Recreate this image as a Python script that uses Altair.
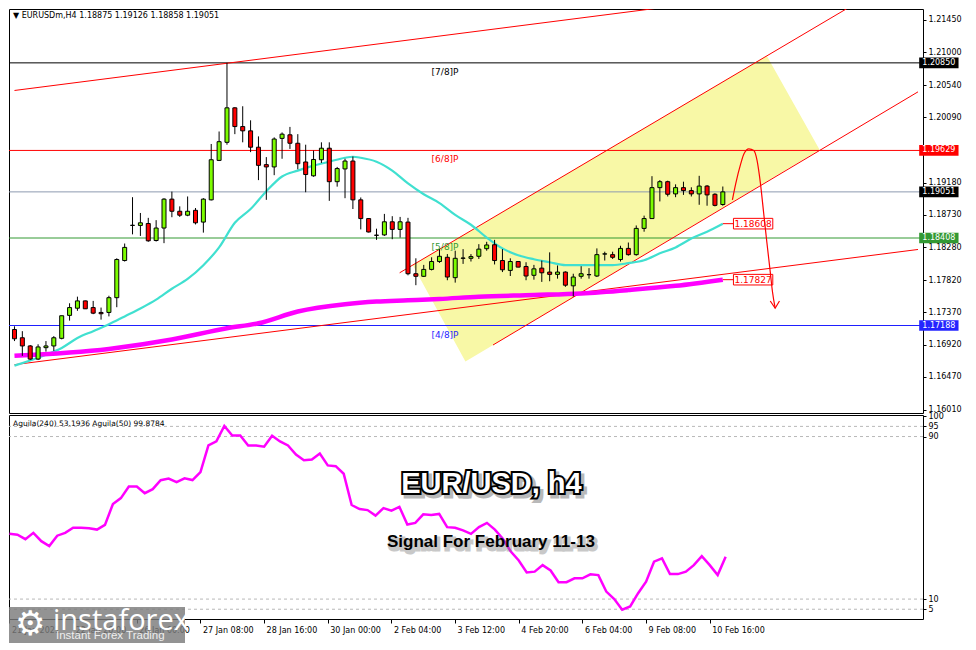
import altair as alt
import pandas as pd

FONT = "DejaVu Sans"
UP_COL = "#7cfc00"
DN_COL = "#ff0000"

# ---------------- candles (H4 bars, index 0..90) ----------------
opens = [1.17132,1.17017,1.16903,1.16720,1.16879,1.16903,1.17009,1.17329,1.17429,1.17531,
         1.17438,1.17370,1.17370,1.17576,1.18094,1.18583,1.18583,1.18610,1.18373,1.18547,
         1.18950,1.18781,1.18726,1.18794,1.18630,1.18940,1.19490,1.19742,1.20223,1.19962,
         1.19902,1.19674,1.19431,1.19399,1.19797,1.19847,1.19729,1.19468,1.19275,1.19499,
         1.19660,1.19193,1.19371,1.19481,1.18940,1.18679,1.18445,1.18451,1.18634,1.18528,
         1.18630,1.17910,1.17874,1.17970,1.18080,1.18139,1.17855,1.18125,1.18125,1.18153,
         1.18259,1.18314,1.18094,1.17956,1.18080,1.18011,1.17888,1.17988,1.17933,1.17901,
         1.17933,1.17741,1.17874,1.17896,1.17878,1.18184,1.18176,1.18108,1.18263,1.18176,
         1.18542,1.18679,1.19110,1.19193,1.19023,1.19110,1.19069,1.19023,1.19132,1.19018,
         1.18875]
highs = [1.17177,1.17109,1.16916,1.16926,1.16971,1.17040,1.17324,1.17498,1.17590,1.17535,
         1.17531,1.17438,1.17603,1.18125,1.18331,1.18977,1.18757,1.18689,1.18657,1.18963,
         1.19055,1.18849,1.18987,1.18826,1.18963,1.19719,1.19893,1.20850,1.20231,1.20245,
         1.20049,1.19825,1.19536,1.19811,1.19880,1.19957,1.19856,1.19709,1.19627,1.19742,
         1.19742,1.19399,1.19513,1.19545,1.18973,1.18685,1.18538,1.18744,1.18712,1.18702,
         1.18689,1.18125,1.18033,1.18139,1.18253,1.18184,1.18231,1.18253,1.18184,1.18322,
         1.18355,1.18382,1.18253,1.18125,1.18085,1.18070,1.18033,1.18094,1.18208,1.18025,
         1.17943,1.17910,1.18015,1.17988,1.18263,1.18217,1.18217,1.18300,1.18345,1.18583,
         1.18720,1.19270,1.19215,1.19207,1.19156,1.19193,1.19115,1.19275,1.19146,1.19032,
         1.19126]
lows = [1.16971,1.16765,1.16706,1.16706,1.16824,1.16834,1.16995,1.17256,1.17393,1.17418,
        1.17346,1.17270,1.17315,1.17443,1.18080,1.18459,1.18437,1.18355,1.18359,1.18336,
        1.18698,1.18702,1.18712,1.18597,1.18483,1.18932,1.19481,1.19709,1.19856,1.19742,
        1.19605,1.19215,1.18940,1.19284,1.19513,1.19650,1.19366,1.19046,1.19262,1.19454,
        1.18926,1.19124,1.18963,1.18812,1.18528,1.18485,1.18382,1.18437,1.18391,1.18414,
        1.17888,1.17750,1.17864,1.17956,1.18061,1.17819,1.17786,1.18047,1.18080,1.18116,
        1.18231,1.18039,1.17933,1.17878,1.18000,1.17819,1.17827,1.17796,1.17805,1.17841,
        1.17727,1.17590,1.17841,1.17841,1.17864,1.18094,1.18116,1.18080,1.18162,1.18162,
        1.18496,1.18675,1.18918,1.18987,1.18977,1.19009,1.18987,1.18871,1.18858,1.18849,
        1.18858]
closes = [1.17003,1.16903,1.16720,1.16889,1.16903,1.17017,1.17324,1.17438,1.17531,1.17421,
          1.17360,1.17352,1.17576,1.18108,1.18277,1.18586,1.18620,1.18369,1.18547,1.18950,
          1.18781,1.18726,1.18781,1.18620,1.18950,1.19499,1.19751,1.20223,1.19962,1.19902,
          1.19674,1.19421,1.19399,1.19788,1.19856,1.19729,1.19444,1.19293,1.19503,1.19660,
          1.19193,1.19376,1.19481,1.18940,1.18679,1.18492,1.18448,1.18634,1.18528,1.18634,
          1.17910,1.17874,1.17970,1.18080,1.18153,1.17864,1.18125,1.18129,1.18149,1.18253,
          1.18311,1.18094,1.17965,1.18080,1.18002,1.17878,1.17978,1.17923,1.17901,1.17933,
          1.17750,1.17864,1.17910,1.17898,1.18176,1.18187,1.18139,1.18263,1.18176,1.18542,
          1.18679,1.19110,1.19193,1.19018,1.19110,1.19069,1.19023,1.19132,1.19009,1.18863,
          1.19051]

# ---------------- moving averages ----------------
cyan_idx = [0,4,6,8,10,12,14,16,18,20,22,24,26,28,30,32,34,36,38,40,42,43,44,46,48,50,
            52,54,56,58,60,62,64,66,68,70,72,74,76,78,80,82,84,86,88,90]
cyan_val = [1.16628,1.16779,1.16875,1.17013,1.17109,1.17205,1.17315,1.17425,1.17548,1.17700,
            1.17837,1.18029,1.18277,1.18620,1.18812,1.19060,1.19266,1.19348,1.19417,1.19472,
            1.19527,1.19541,1.19527,1.19472,1.19348,1.19169,1.19018,1.18895,1.18730,1.18593,
            1.18414,1.18263,1.18167,1.18112,1.18070,1.18029,1.18029,1.18029,1.18029,1.18057,
            1.18098,1.18194,1.18277,1.18400,1.18496,1.18608]
mag_idx = [0,12,20,27,31,36,42,46,50,54,59,66,72,78,84,90]
mag_val = [1.16765,1.16861,1.16992,1.17150,1.17219,1.17383,1.17484,1.17521,1.17539,1.17558,
           1.17590,1.17613,1.17635,1.17682,1.17741,1.17827]

# ---------------- indicator (Aguila) ----------------
aguila = [42.1,41.7,39.5,42.6,38.5,36.1,41.2,42.6,45.1,45.1,
          44.9,44.2,46.5,56.8,59.7,65.4,65.4,62.1,64.1,68.5,
          69.3,67.6,69.4,68.6,72.5,85.6,87.6,95.2,90.5,90.5,
          85.6,85.6,85.0,90.4,87.6,85.6,81.1,78.3,78.7,81.6,
          75.8,75.4,71.7,56.3,54.3,53.8,51.1,54.8,53.5,55.4,
          46.7,47.5,51.7,51.4,51.9,45.4,45.1,43.8,42.1,45.4,
          47.5,44.2,39.7,33.4,29.0,23.1,23.5,26.7,24.1,18.3,
          18.3,20.2,20.2,22.2,21.8,13.7,10.0,4.8,6.4,12.9,
          18.6,28.4,30.0,22.3,22.3,23.5,26.7,31.1,26.7,21.8,
          30.8]
ind_levels = [5, 10, 90, 95]
ind_ticks = [0, 5, 10, 90, 95, 100]

# ---------------- levels / axis ----------------
level_prices = [1.20850, 1.19629, 1.18408, 1.17188]
level_names = ["[7/8]P", "[6/8]P", "[5/8]P", "[4/8]P"]
level_colors = ["#000000", "#ff0000", "#339933", "#1f1fff"]
bid_price = 1.19051
axis_ticks = [1.21450, 1.21000, 1.20540, 1.20090, 1.19180, 1.18730,
              1.18280, 1.17820, 1.17370, 1.16920, 1.16470, 1.16010]
box_prices = [1.20850, 1.19629, 1.19051, 1.18408, 1.17188]
box_colors = ["#000000", "#ff0000", "#000000", "#339933", "#2424ff"]
ma_labels = [1.18608, 1.17827]

time_ticks = [0, 8, 16, 24, 32, 40, 48, 56, 64, 72, 80, 88]
time_labels = ["21 Jan 2021", "22 Jan 20:00", "26 Jan 00:00", "27 Jan 08:00",
               "28 Jan 16:00", "30 Jan 00:00", "2 Feb 04:00", "3 Feb 12:00",
               "4 Feb 20:00", "6 Feb 04:00", "9 Feb 08:00", "10 Feb 16:00"]

# ---------------- drawn objects (bar index, price) ----------------
top_line_x = [0, 84];          top_line_p = [1.20465, 1.21645]
base_line_x = [0, 114.8];      base_line_p = [1.16642, 1.18248]
ch_up_x = [48.94, 106];        ch_up_p = [1.17923, 1.21622]
ch_low_x = [60.8, 114.8];      ch_low_p = [1.16916, 1.20446]
yel_x = [50.6, 57.3, 95.6, 102.3]
yel_top = [1.18031, 1.18465, 1.20947, 1.19638]
yel_bot = [1.18031, 1.16686, 1.19198, 1.19638]
arrow_x = [91.22, 91.65, 92.28, 92.69, 93.31, 93.94, 94.35, 94.78, 95.19, 95.6, 96.03, 96.31, 96.65]
arrow_p = [1.18940, 1.19169, 1.19444, 1.19582, 1.19650, 1.19627, 1.19490, 1.19169,
           1.18757, 1.18345, 1.17933, 1.17658, 1.17429]
head_x = [96.03, 96.65, 97.2]
head_p = [1.17530, 1.17429, 1.17530]

header = "\u25bc EURUSDm,H4  1.18875 1.19126 1.18858 1.19051"
ind_header = "Aguila(240) 53.1936  Aguila(50) 99.8784"
title_txt = "EUR/USD, h4"
signal_txt = "Signal For February 11-13"

# ---------------- scales ----------------
X_DOMAIN = [-0.06, 114.8]
P_DOMAIN = [1.15968, 1.21601]
A_DOMAIN = [0.2, 100.6]
W, H_MAIN, H_IND = 914, 404, 204
BOX_H = 0.00074

xs = alt.Scale(domain=X_DOMAIN, nice=False, zero=False)
ys = alt.Scale(domain=P_DOMAIN, nice=False, zero=False)
ais = alt.Scale(domain=A_DOMAIN, nice=False, zero=False)

price_axis = alt.Axis(orient="right", values=axis_ticks, format=".5f", labelFont=FONT,
                      labelFontSize=8, labelColor="black", tickColor="black", tickSize=3,
                      domain=False, grid=False, labelPadding=2, labelOverlap=False)
label_expr = "[" + ",".join("'%s'" % s for s in time_labels) + "][round(datum.value/8)]"
time_axis = alt.Axis(values=time_ticks, labelExpr=label_expr, labelAlign="left", labelOffset=2,
                     labelFont=FONT, labelFontSize=8, labelColor="black", tickColor="black",
                     tickSize=4, domain=False, grid=False, labelFlush=False,
                     labelOverlap=False, labelPadding=3)
ind_axis = alt.Axis(orient="right", values=ind_ticks, labelFont=FONT, labelFontSize=8,
                    labelColor="black", tickColor="black", tickSize=3, domain=False,
                    grid=False, labelOverlap=False, labelPadding=2)


def PX(f):
    return alt.X(f, type="quantitative", scale=xs, axis=None, title=None)


def PY(f):
    return alt.Y(f, type="quantitative", scale=ys, axis=price_axis, title=None)


def IX(f):
    return alt.X(f, type="quantitative", scale=xs, axis=time_axis, title=None)


def IY(f):
    return alt.Y(f, type="quantitative", scale=ais, axis=ind_axis, title=None)


# ---------------- data frames ----------------
n = len(opens)
candles = pd.DataFrame({"i": list(range(n)), "o": opens, "h": highs, "l": lows, "c": closes})
candles["col"] = [UP_COL if c >= o else DN_COL for o, c in zip(opens, closes)]

cyan_df = pd.DataFrame({"i": cyan_idx, "v": cyan_val})
mag_df = pd.DataFrame({"i": mag_idx, "v": mag_val})
levels_df = pd.DataFrame({"p": level_prices, "name": level_names, "col": level_colors,
                          "lx": [53] * len(level_prices)})
bid_df = pd.DataFrame({"p": [bid_price]})
trend_df = pd.DataFrame({
    "id": ["top"] * 2 + ["base"] * 2 + ["cu"] * 2 + ["cl"] * 2,
    "x": top_line_x + base_line_x + ch_up_x + ch_low_x,
    "p": top_line_p + base_line_p + ch_up_p + ch_low_p,
})
yel_df = pd.DataFrame({"x": yel_x, "top": yel_top, "bot": yel_bot})
arrow_df = pd.DataFrame({"x": arrow_x, "p": arrow_p})
head_df = pd.DataFrame({"x": head_x, "p": head_p})
ma_lab_df = pd.DataFrame({
    "p": ma_labels, "txt": ["%.5f" % v for v in ma_labels],
    "x1": [90] * 2, "x2": [91.35] * 2, "bx1": [91.35] * 2, "bx2": [96.35] * 2,
    "tx": [93.85] * 2,
    "b1": [v - BOX_H for v in ma_labels], "b2": [v + BOX_H for v in ma_labels],
})
box_df = pd.DataFrame({
    "p": box_prices, "col": box_colors, "txt": ["%.5f" % v for v in box_prices],
    "x1": [114.95] * 5, "x2": [119.95] * 5, "tx": [117.45] * 5,
    "b1": [v - BOX_H for v in box_prices], "b2": [v + BOX_H for v in box_prices],
})

# ---------------- main panel ----------------
yellow = alt.Chart(yel_df).mark_area(color="#f8f8a6", clip=True).encode(
    x=PX("x"), y=PY("top"), y2=alt.Y2("bot"))
level_rules = alt.Chart(levels_df).mark_rule(strokeWidth=1).encode(
    y=PY("p"), color=alt.Color("col:N", scale=None))
bid_rule = alt.Chart(bid_df).mark_rule(color="#8e9bb0", strokeWidth=1).encode(y=PY("p"))
trend = alt.Chart(trend_df).mark_line(color="#ff0000", strokeWidth=1, clip=True).encode(
    x=PX("x"), y=PY("p"), detail="id:N")
cyan = alt.Chart(cyan_df).mark_line(color="#40e0d0", strokeWidth=2.2, interpolate="monotone",
                                    clip=True).encode(x=PX("i"), y=PY("v"))
magenta = alt.Chart(mag_df).mark_line(color="#ff00ff", strokeWidth=4.5, interpolate="monotone",
                                      clip=True).encode(x=PX("i"), y=PY("v"))
wicks = alt.Chart(candles).mark_rule(color="black", strokeWidth=1, clip=True).encode(
    x=PX("i"), y=PY("l"), y2=alt.Y2("h"))
bodies = alt.Chart(candles).mark_bar(size=4, stroke="black", strokeWidth=1, clip=True).encode(
    x=PX("i"), y=PY("o"), y2=alt.Y2("c"), fill=alt.Fill("col:N", scale=None))
connectors = alt.Chart(ma_lab_df).mark_rule(color="#ff0000", strokeWidth=1).encode(
    x=PX("x1"), x2=alt.X2("x2"), y=PY("p"))
lab_box = alt.Chart(ma_lab_df).mark_rect(fill="white", stroke="#ff0000", strokeWidth=1).encode(
    x=PX("bx1"), x2=alt.X2("bx2"), y=PY("b1"), y2=alt.Y2("b2"))
lab_txt = alt.Chart(ma_lab_df).mark_text(color="#ff0000", font=FONT, fontSize=9,
                                         baseline="middle").encode(
    x=PX("tx"), y=PY("p"), text="txt:N")
arrow = alt.Chart(arrow_df).mark_line(color="#ff0000", strokeWidth=1.2,
                                      interpolate="monotone").encode(x=PX("x"), y=PY("p"))
head = alt.Chart(head_df).mark_line(color="#ff0000", strokeWidth=1.2).encode(
    x=PX("x"), y=PY("p"))
level_txt = alt.Chart(levels_df).mark_text(align="left", baseline="middle", dy=9, font=FONT,
                                           fontSize=9).encode(
    x=PX("lx"), y=PY("p"), text="name:N", color=alt.Color("col:N", scale=None))
rbox = alt.Chart(box_df).mark_rect(clip=False).encode(
    x=PX("x1"), x2=alt.X2("x2"), y=PY("b1"), y2=alt.Y2("b2"), fill=alt.Fill("col:N", scale=None))
rtxt = alt.Chart(box_df).mark_text(color="white", font=FONT, fontSize=8,
                                   baseline="middle").encode(x=PX("tx"), y=PY("p"), text="txt:N")
head_txt = alt.Chart(pd.DataFrame({"t": [header]})).mark_text(
    align="left", baseline="middle", font=FONT, fontSize=8, color="black").encode(
    x=alt.value(4), y=alt.value(7), text="t:N")

main = alt.layer(yellow, level_rules, bid_rule, trend, cyan, magenta, wicks, bodies,
                 connectors, lab_box, lab_txt, arrow, head, level_txt, rbox, rtxt,
                 head_txt).properties(width=W, height=H_MAIN)

# ---------------- indicator panel ----------------
ag_df = pd.DataFrame({"i": list(range(len(aguila))), "v": aguila})
dash_df = pd.DataFrame({"v": ind_levels})
title_df = pd.DataFrame({"x": [60.56], "v": [66.5], "t": [title_txt]})
signal_df = pd.DataFrame({"x": [60.5], "v": [38.2], "t": [signal_txt]})

dashed = alt.Chart(dash_df).mark_rule(color="#b8b8b8", strokeDash=[3, 3]).encode(y=IY("v"))
ag_line = alt.Chart(ag_df).mark_line(color="#ff00ff", strokeWidth=2.5, clip=True).encode(
    x=IX("i"), y=IY("v"))
tfont = dict(font="Liberation Sans", fontWeight="bold", baseline="middle", align="center")
t_shadow = alt.Chart(title_df).mark_text(fontSize=29, color="#666666", stroke="#666666",
                                         strokeWidth=5, opacity=0.45, dx=3, dy=3,
                                         **tfont).encode(x=IX("x"), y=IY("v"), text="t:N")
t_outline = alt.Chart(title_df).mark_text(fontSize=29, color="black", stroke="black",
                                          strokeWidth=4, **tfont).encode(
    x=IX("x"), y=IY("v"), text="t:N")
t_fill = alt.Chart(title_df).mark_text(fontSize=29, color="white", **tfont).encode(
    x=IX("x"), y=IY("v"), text="t:N")
s_shadow = alt.Chart(signal_df).mark_text(fontSize=17, color="#777777", stroke="#777777",
                                          strokeWidth=3, opacity=0.4, dx=2, dy=3,
                                          **tfont).encode(x=IX("x"), y=IY("v"), text="t:N")
s_fill = alt.Chart(signal_df).mark_text(fontSize=17, color="black", **tfont).encode(
    x=IX("x"), y=IY("v"), text="t:N")
ind_head = alt.Chart(pd.DataFrame({"t": [ind_header]})).mark_text(
    align="left", baseline="middle", font=FONT, fontSize=7.5, color="black").encode(
    x=alt.value(4), y=alt.value(9), text="t:N")

one = pd.DataFrame({"a": [0]})
logo_box = alt.Chart(one).mark_rect(color="#7b7b7b", opacity=0.82).encode(
    x=alt.value(0), x2=alt.value(176), y=alt.value(192), y2=alt.value(228))
logo_gear = alt.Chart(pd.DataFrame({"t": ["\u2699"]})).mark_text(
    fontSize=34, color="white", font="DejaVu Sans", align="left", baseline="middle").encode(
    x=alt.value(6), y=alt.value(210), text="t:N")
logo_name = alt.Chart(pd.DataFrame({"t": ["instaforex"]})).mark_text(
    fontSize=29, color="white", font="Open Sans", align="left", baseline="middle").encode(
    x=alt.value(44), y=alt.value(206), text="t:N")
logo_sub = alt.Chart(pd.DataFrame({"t": ["Instant Forex Trading"]})).mark_text(
    fontSize=11.5, color="#eeeeee", font="Liberation Sans", align="left",
    baseline="middle").encode(x=alt.value(47), y=alt.value(221), text="t:N")

ind = alt.layer(dashed, ag_line, t_shadow, t_outline, t_fill, s_shadow, s_fill, ind_head,
                logo_box, logo_gear, logo_name, logo_sub).properties(width=W, height=H_IND)

chart = alt.vconcat(main, ind, spacing=2, bounds="flush", padding=0,
                    background="white").configure_view(stroke="black", strokeWidth=1)

chart.save("out.html", embed_options={"renderer": "svg", "actions": False})
